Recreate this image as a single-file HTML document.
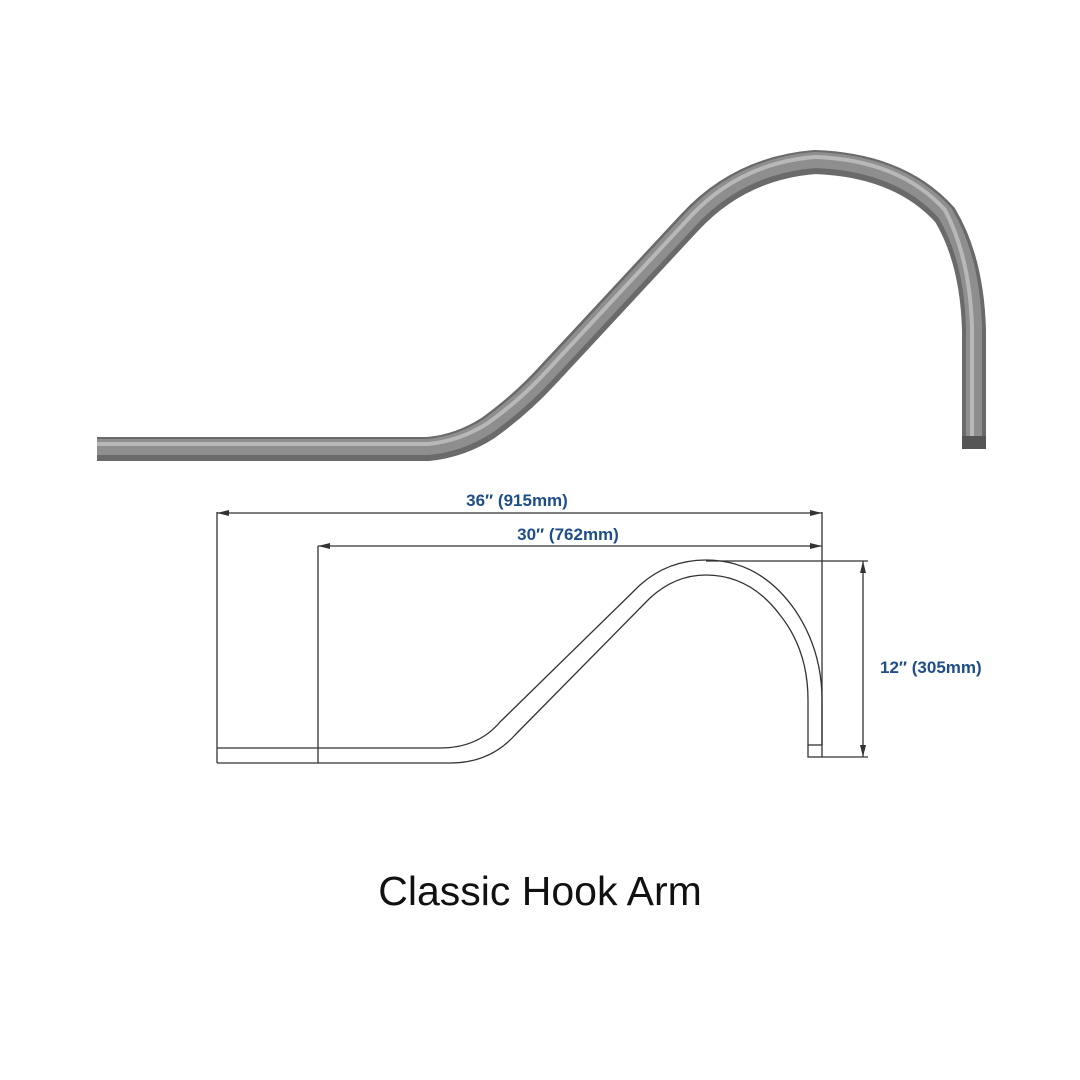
<!DOCTYPE html>
<html><head><meta charset="utf-8"><style>
html,body{margin:0;padding:0;background:#fff;}
svg{display:block;}
</style></head><body>
<svg width="1080" height="1080" viewBox="0 0 1080 1080" xmlns="http://www.w3.org/2000/svg">
<rect width="1080" height="1080" fill="#fff"/>
<!-- 3D pipe -->
<g fill="none" stroke-linejoin="round">
<path d="M97 449 L428 449 Q460 446 488 428 Q520 405 545 378 L690 222 Q740 168 815 162 Q900 165 945 215 Q972 260 974 330 L974 448" stroke="#6a6a6a" stroke-width="24" stroke-linecap="butt"/>
<path d="M97 447 L428 447 Q460 444 488 426 Q520 403 545 376 L690 220 Q740 166 815 160 Q900 163 945 213 Q972 258 974 328 L974 446" stroke="#8e8e8e" stroke-width="16"/>
<path d="M97 444 L428 444 Q460 441 488 423 Q520 400 545 373 L690 217 Q740 163 815 157 Q900 160 945 210 Q970 258 972 328 L972 444" stroke="#b8b8b8" stroke-width="4"/>
<rect x="962" y="436" width="24" height="13" fill="#555"/>
</g>
<!-- line drawing -->
<g fill="none" stroke="#333" stroke-width="1.3">
<path d="M217 748 L440 748 Q478 748 500 722 L640 585 Q668 560 706 560 Q760 560 795 610 Q822 650 822 700 L822 745"/>
<path d="M217 763 L450 763 Q490 763 515 735 L650 598 Q675 575 706 575 Q750 575 780 615 Q808 650 808 700 L808 745"/>
<rect x="808" y="745" width="14" height="12"/>
<path d="M217 512 L217 763 M318 546 L318 763 M822 512 L822 745"/>
<path d="M706 561 L868 561 M822 757 L868 757 M863 561 L863 757"/>
<path d="M217 513 L822 513 M318 546 L822 546"/>
</g>
<g fill="#333">
<path d="M217 513 l12 -3 l0 6z M822 513 l-12 -3 l0 6z M318 546 l12 -3 l0 6z M822 546 l-12 -3 l0 6z M863 561 l-3 12 l6 0z M863 757 l-3 -12 l6 0z"/>
</g>
<g font-family="Liberation Sans, sans-serif" font-weight="bold" font-size="17" fill="#1d4e8a">
<text x="517" y="506" text-anchor="middle">36″ (915mm)</text>
<text x="568" y="540" text-anchor="middle">30″ (762mm)</text>
<text x="880" y="673">12″ (305mm)</text>
</g>
<text x="540" y="905" text-anchor="middle" font-family="Liberation Sans, sans-serif" font-size="41" fill="#111">Classic Hook Arm</text>
</svg>
</body></html>
